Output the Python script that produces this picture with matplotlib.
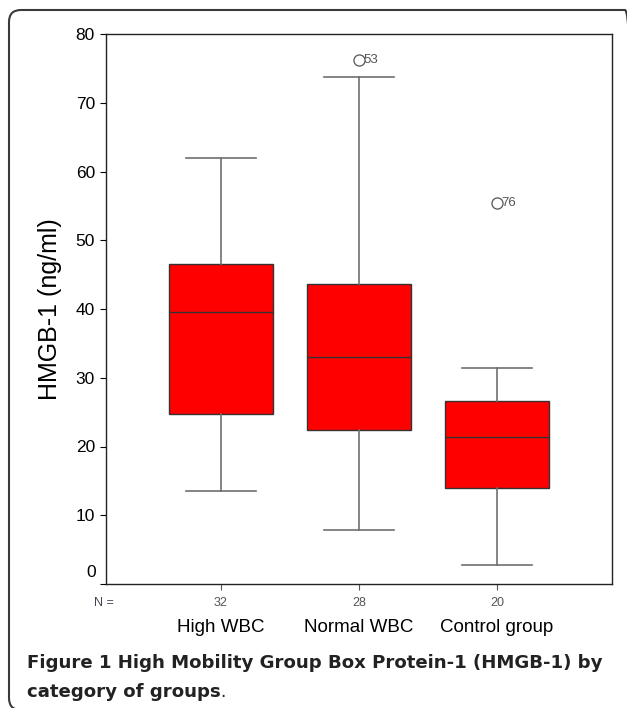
import matplotlib
matplotlib.use("Agg")
import matplotlib.pyplot as plt
from matplotlib.patches import FancyBboxPatch

# values
categories = ["High WBC", "Normal WBC", "Control group"]
n_counts = ["32", "28", "20"]
whislo = [13.6, 7.8, 2.7]
q1 = [24.7, 22.4, 13.9]
med = [39.6, 33.0, 21.4]
q3 = [46.5, 43.7, 26.6]
whishi = [62.0, 73.8, 31.4]
fliers = [[], [76.2], [55.4]]
flier_ids = [[], ["53"], ["76"]]

plt.rcParams['font.family'] = ['Liberation Sans', 'DejaVu Sans']

fig = plt.figure(figsize=(6.27, 7.08), dpi=100)
ax = fig.add_axes([106/627, 1 - 584/708, (612-106)/627, (584-34)/708])

stats = []
for i in range(3):
    stats.append({'whislo': whislo[i], 'q1': q1[i], 'med': med[i],
                  'q3': q3[i], 'whishi': whishi[i], 'fliers': fliers[i]})

ax.bxp(stats, positions=[1, 2, 3], widths=0.75, patch_artist=True,
       showfliers=True,
       boxprops=dict(facecolor='#ff0000', edgecolor='#333333', linewidth=1.0),
       medianprops=dict(color='#333333', linewidth=1.0),
       whiskerprops=dict(color='#707070', linewidth=1.2),
       capprops=dict(color='#707070', linewidth=1.2),
       capwidths=0.51,
       flierprops=dict(marker='o', markersize=8, markerfacecolor='none',
                       markeredgecolor='#555555', markeredgewidth=0.9))

# outlier case numbers
for i in range(3):
    for v, lab in zip(fliers[i], flier_ids[i]):
        ax.annotate(lab, xy=(i + 1, v), xytext=(3, 0), textcoords='offset points',
                    ha='left', va='center', fontsize=9.5, color='#555555')

ax.set_xlim(1/6, 3 + 5/6)
ax.set_ylim(0, 80)
ax.set_yticks(range(0, 81, 10))
ax.set_yticklabels([''] + [str(v) for v in range(10, 81, 10)], fontsize=12.5)
ax.annotate('0', xy=(0, 0), xycoords=ax.get_yaxis_transform(),
            xytext=(-7.5, 8), textcoords='offset points',
            ha='right', va='center', fontsize=12.5)
ax.tick_params(axis='y', direction='out', length=4, width=0.8, pad=4)
ax.set_xticks([1, 2, 3])
ax.set_xticklabels(n_counts, fontsize=9, color='#555555')
ax.tick_params(axis='x', direction='out', length=4, width=0.8, pad=5, colors='#555555')
ax.tick_params(axis='x', labelcolor='#555555')
for sp in ax.spines.values():
    sp.set_linewidth(1.0)
    sp.set_color('#222222')

ax.set_ylabel('HMGB-1 (ng/ml)', fontsize=18, labelpad=10)

ax.annotate('N =', xy=(0, 0), xycoords='axes fraction', xytext=(-1.5, -9),
            textcoords='offset points', fontsize=9, color='#4a4055',
            ha='center', va='top')
for i, c in enumerate(categories):
    ax.text(i + 1, -0.08, c, transform=ax.get_xaxis_transform(), fontsize=13.5,
            ha='center', va='center')

# caption
cap_size = 13.1
t1 = fig.text(27/627, 1 - 663/708, 'Figure 1 High Mobility Group Box Protein-1 (HMGB-1) by',
              fontsize=cap_size, fontweight='bold', family='DejaVu Sans', color='#222222',
              ha='left', va='center')
t2 = fig.text(27/627, 1 - 692/708, 'category of groups', fontsize=cap_size, fontweight='bold',
              family='DejaVu Sans', color='#222222', ha='left', va='center')
r = fig.canvas.get_renderer()
bb = t2.get_window_extent(r)
fig.text(bb.x1 / fig.bbox.width, 1 - 692/708, '.', fontsize=cap_size - 1, family='DejaVu Sans',
         color='#222222', ha='left', va='center')

# rounded frame around the whole figure, cut by the right and bottom edges
frame = FancyBboxPatch((0.09, -0.02), 6.28, 7.0, boxstyle='round,pad=0,rounding_size=0.12',
                       transform=fig.dpi_scale_trans, facecolor='none',
                       edgecolor='#3a3a3a', linewidth=1.5, clip_on=False)
fig.patches.append(frame)

fig.savefig('out.png', dpi=100)
